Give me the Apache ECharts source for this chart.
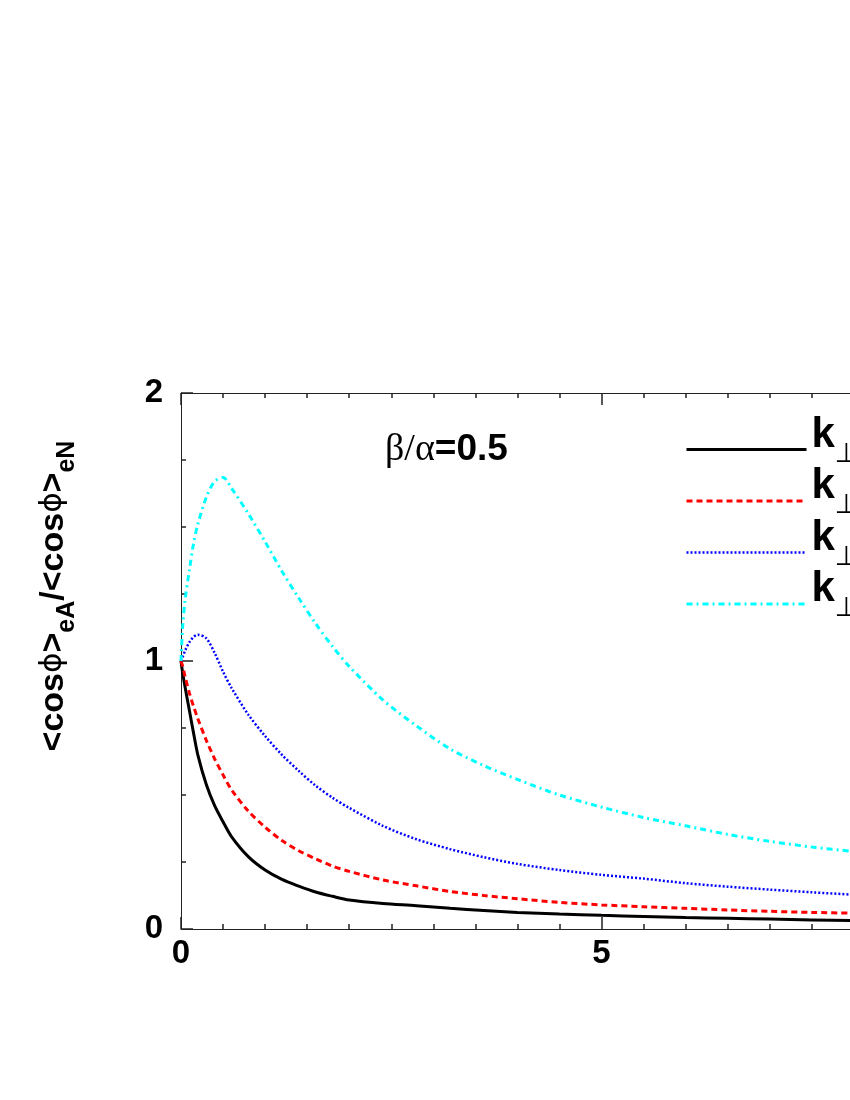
<!DOCTYPE html>
<html>
<head>
<meta charset="utf-8">
<script src="https://cdn.jsdelivr.net/npm/echarts@6/dist/echarts.min.js"></script>
<style>
  html, body { margin: 0; padding: 0; background: #fff; }
  #chart { width: 850px; height: 1100px; }
</style>
</head>
<body>
<div id="chart"></div>
<script>
// x values (k_T axis)
const xs = [0, 0.02, 0.05, 0.1, 0.15, 0.2, 0.3, 0.4, 0.5, 0.6, 0.8, 1.0, 1.2, 1.4, 1.6, 1.8, 2.0,
  2.4, 2.8, 3.2, 3.6, 4.0, 4.5, 5.0, 5.5, 6.0, 6.5, 7.0, 7.5, 8.0, 8.2];

// ratio curves, one per k_perp
const blackY = [1.0, 0.955, 0.9, 0.815, 0.73, 0.65, 0.54, 0.46, 0.4, 0.345, 0.27, 0.22, 0.185, 0.16, 0.138, 0.122, 0.108,
  0.095, 0.087, 0.077, 0.069, 0.062, 0.056, 0.051, 0.047, 0.043, 0.04, 0.037, 0.034, 0.031, 0.03];
const redY = [1.0, 0.98, 0.94, 0.88, 0.83, 0.785, 0.705, 0.635, 0.575, 0.52, 0.44, 0.38, 0.33, 0.292, 0.262, 0.235, 0.215,
  0.183, 0.161, 0.14, 0.125, 0.113, 0.099, 0.09, 0.083, 0.077, 0.071, 0.066, 0.062, 0.059, 0.058];
const blueY = [1.0, 1.015, 1.04, 1.07, 1.09, 1.098, 1.085, 1.03, 0.96, 0.9, 0.8, 0.72, 0.65, 0.59, 0.535, 0.49, 0.452,
  0.385, 0.335, 0.298, 0.268, 0.243, 0.22, 0.202, 0.188, 0.171, 0.158, 0.147, 0.137, 0.128, 0.125];
const cyanY = [1.0, 1.13, 1.23, 1.34, 1.44, 1.51, 1.61, 1.67, 1.685, 1.645, 1.55, 1.445, 1.335, 1.235, 1.14, 1.055, 0.98,
  0.855, 0.758, 0.672, 0.61, 0.558, 0.5, 0.455, 0.416, 0.385, 0.353, 0.327, 0.306, 0.289, 0.282];

const names = ['k⊥=0.5 GeV', 'k⊥=1 GeV', 'k⊥=2 GeV', 'k⊥=4 GeV'];
const colors = ['#000000', '#ff0000', '#0000ff', '#00ffff'];
const dashes = ['solid', [6, 4], [2, 2], [6, 4, 2, 4]];
const widths = [3, 3, 2.5, 3];
const curves = [blackY, redY, blueY, cyanY];

const chart = echarts.init(document.getElementById('chart'));

const tickFont = { fontFamily: 'Liberation Sans', fontWeight: 'bold', fontSize: 33, color: '#000' };

const option = {
  animation: false,
  backgroundColor: '#fff',
  grid: { left: 181, top: 393, bottom: 171, right: -172, containLabel: false, outerBoundsMode: 'none' },
  legend: {
    orient: 'vertical',
    left: 680,
    top: 409,
    itemWidth: 120,
    itemHeight: 14,
    itemGap: -2.5,
    selectedMode: false,
    data: names,
    itemStyle: { opacity: 0 },
    lineStyle: { width: 'inherit' },
    // k with a subscript perp sign; z is an empty spacer that sets the line box
    formatter: name => '{k|k}{s|⊥}{r|' + name.slice(2) + '}{z| }',
    textStyle: {
      rich: {
        k: { fontFamily: 'Liberation Sans', fontWeight: 'bold', fontSize: 42, lineHeight: 42, verticalAlign: 'top', color: '#000' },
        s: { fontFamily: 'DejaVu Sans', fontSize: 27, lineHeight: 27, padding: [27, 0, 0, 0], verticalAlign: 'top', color: '#000' },
        r: { fontFamily: 'Liberation Sans', fontWeight: 'bold', fontSize: 34, lineHeight: 42, verticalAlign: 'top', color: '#000' },
        z: { fontSize: 2, lineHeight: 71, verticalAlign: 'top' }
      }
    }
  },
  xAxis: [
    {
      type: 'value', min: 0, max: 10, interval: 5, position: 'bottom',
      axisLine: { show: true, onZero: false, lineStyle: { color: '#222', width: 1 } },
      axisTick: { show: true, inside: true, length: 12, lineStyle: { color: '#222', width: 1.5 } },
      minorTick: { show: true, splitNumber: 10, length: 5, lineStyle: { color: '#222', width: 1.5 } },
      axisLabel: Object.assign({ margin: 8 }, tickFont),
      splitLine: { show: false }
    },
    {
      type: 'value', min: 0, max: 10, interval: 5, position: 'top',
      axisLine: { show: true, onZero: false, lineStyle: { color: '#222', width: 1 } },
      axisTick: { show: true, inside: true, length: 12, lineStyle: { color: '#222', width: 1.5 } },
      minorTick: { show: true, splitNumber: 10, length: 5, lineStyle: { color: '#222', width: 1.5 } },
      axisLabel: { show: false },
      splitLine: { show: false }
    }
  ],
  yAxis: {
    type: 'value', min: 0, max: 2, interval: 1,
    axisLine: { show: true, onZero: false, lineStyle: { color: '#222', width: 1 } },
    axisTick: { show: true, inside: true, length: 12, lineStyle: { color: '#222', width: 1.5 } },
    minorTick: { show: true, splitNumber: 4, length: 5, lineStyle: { color: '#222', width: 1.5 } },
    axisLabel: Object.assign({ margin: 18 }, tickFont),
    splitLine: { show: false }
  },
  series: curves.map((ys, i) => ({
    name: names[i],
    type: 'line',
    xAxisIndex: 0,
    symbol: 'none',
    smooth: 0.3,
    data: xs.map((x, j) => [x, ys[j]]),
    lineStyle: { color: colors[i], width: widths[i], type: dashes[i] },
    itemStyle: { color: colors[i] }
  })),
  graphic: [
    {
      type: 'text',
      left: 385,
      top: 431,
      style: {
        text: '{n|β/α}{b|=0.5}',
        rich: {
          n: { fontFamily: 'Liberation Serif', fontSize: 38, color: '#000' },
          b: { fontFamily: 'Liberation Sans', fontWeight: 'bold', fontSize: 37, color: '#000' }
        }
      }
    },
    {
      type: 'text',
      x: 54,
      y: 596,
      rotation: Math.PI / 2,
      style: {
        text: '{m|<cos}{p|ϕ}{m|>}{s|eA}{m|/<cos}{p|ϕ}{m|>}{s|eN}',
        align: 'center',
        verticalAlign: 'middle',
        rich: {
          m: { fontFamily: 'Liberation Sans', fontWeight: 'bold', fontSize: 34, lineHeight: 34, verticalAlign: 'top', color: '#000' },
          p: { fontFamily: 'DejaVu Sans', fontSize: 31, lineHeight: 34, verticalAlign: 'top', color: '#000' },
          s: { fontFamily: 'Liberation Sans', fontWeight: 'bold', fontSize: 25, lineHeight: 25, padding: [18, 0, 0, 0], verticalAlign: 'top', color: '#000' }
        }
      }
    }
  ]
};

chart.setOption(option);
</script>
</body>
</html>
